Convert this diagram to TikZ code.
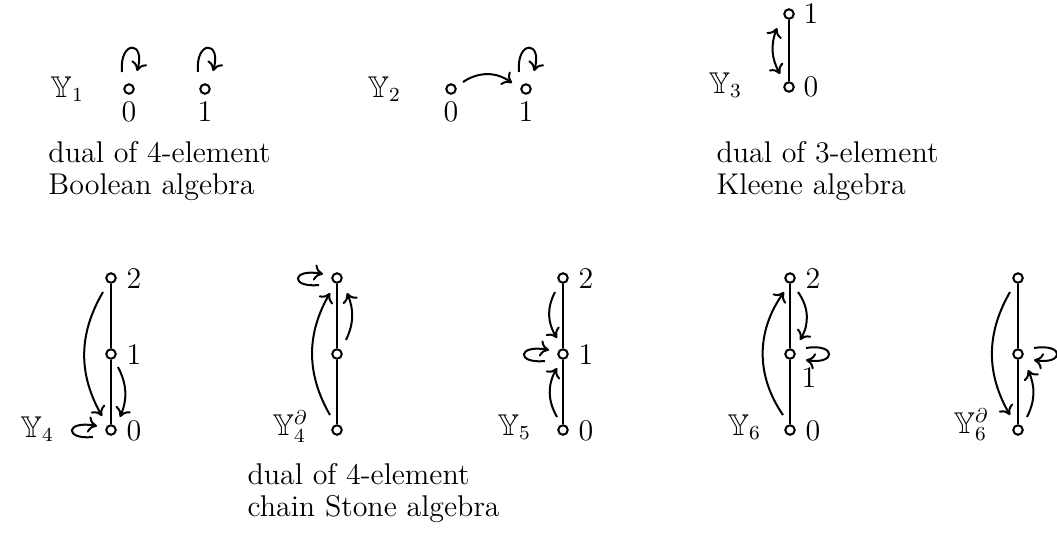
\documentclass[tikz,border=0pt]{standalone}
\usepackage{amssymb}
\usetikzlibrary{calc,arrows.meta}
\newcommand\lpTop[1]{\draw[arr] ($(#1)+(-7,-17)$) .. controls ($(#1)+(-10,-49)$) and ($(#1)+(17,-49)$) .. ($(#1)+(8,-18)$);}
\newcommand\lpLeft[1]{\draw[arr] ($(#1)+(-18,7)$) .. controls ($(#1)+(-47,10)$) and ($(#1)+(-46,-10)$) .. ($(#1)+(-14,-4)$);}
\newcommand\lpRight[1]{\draw[arr] ($(#1)+(16,-6)$) .. controls ($(#1)+(47,-11)$) and ($(#1)+(46,11)$) .. ($(#1)+(16,6)$);}
\begin{document}
\begin{tikzpicture}[x=0.4pt,y=-0.4pt,
  font=\fontsize{12}{12.8}\selectfont,
  vtx/.style={circle,draw,line width=0.8pt,inner sep=0pt,minimum size=3.8pt},
  chainline/.style={line width=0.8pt},
  arr/.style={line width=0.8pt,-{To[length=3.6pt,width=6.5pt]}},
  darr/.style={line width=0.8pt,{To[length=3.6pt,width=6.5pt]}-{To[length=3.6pt,width=6.5pt]}},
  numr/.style={anchor=base west,inner sep=0pt},
  numb/.style={anchor=base,inner sep=0pt},
  ylab/.style={anchor=base west,inner sep=0pt},
  capt/.style={anchor=base west,align=left,inner sep=0pt}]
\useasboundingbox (0,0) rectangle (1057,549);

% ---------- Y1 ----------
\node[ylab] (n1) at (50,97) {$\mathbb{Y}_1$};
\node[vtx] (a0) at (129,89) {};
\node[vtx] (a1) at (205,89) {};
\node[numb] (la0) at (129,121) {0};
\node[numb] (la1) at (205,121) {1};
\lpTop{a0}
\lpTop{a1}
\node[capt] (c1) at (48,194) {dual of 4-element\\Boolean algebra};

% ---------- Y2 ----------
\node[ylab] (n2) at (367,97) {$\mathbb{Y}_2$};
\node[vtx] (b0) at (451,89) {};
\node[vtx] (b1) at (526,89) {};
\node[numb] (lb0) at (451,121) {0};
\node[numb] (lb1) at (526,121) {1};
\draw[arr] ($(b0)+(12,-7)$) to[bend left=35] ($(b1)+(-14,-6)$);
\lpTop{b1}

% ---------- Y3 ----------
\node[ylab] (n3) at (708,93) {$\mathbb{Y}_3$};
\node[vtx] (c1v) at (789,14) {};
\node[vtx] (c0v) at (789,87) {};
\draw[chainline] (c1v) -- (c0v);
\node[numr] (lc1) at (803,23) {1};
\node[numr] (lc0) at (803,96) {0};
\draw[darr] ($(c1v)+(-12,14)$) to[bend right=25] ($(c0v)+(-9,-13)$);
\node[capt] (c3) at (716,194) {dual of 3-element\\Kleene algebra};

% ---------- Y4 ----------
\node[ylab] (n4) at (20,437) {$\mathbb{Y}_4$};
\node[vtx] (d2) at (111,278) {};
\node[vtx] (d1) at (111,354) {};
\node[vtx] (d0) at (111,430) {};
\draw[chainline] (d2) -- (d1) -- (d0);
\node[numr] (ld2) at (126,288) {2};
\node[numr] (ld1) at (126,364) {1};
\node[numr] (ld0) at (126,440) {0};
\draw[arr] ($(d2)+(-8,14)$) to[bend right=30] ($(d0)+(-9,-14)$);
\draw[arr] ($(d1)+(7,13)$) to[bend left=25] ($(d0)+(9,-13)$);
\lpLeft{d0}

% ---------- Y4 dual ----------
\node[ylab] (n4d) at (272,435) {$\mathbb{Y}_4^\partial$};
\node[vtx] (e2) at (337,278) {};
\node[vtx] (e1) at (337,354) {};
\node[vtx] (e0) at (337,430) {};
\draw[chainline] (e2) -- (e1) -- (e0);
\draw[arr] ($(e0)+(-7,-15)$) to[bend left=30] ($(e2)+(-7,15)$);
\draw[arr] ($(e1)+(9,-14)$) to[bend right=24] ($(e2)+(10,15)$);
\lpLeft{e2}
\node[capt] (c4) at (247,516) {dual of 4-element\\chain Stone algebra};

% ---------- Y5 ----------
\node[ylab] (n5) at (497,435) {$\mathbb{Y}_5$};
\node[vtx] (f2) at (563,278) {};
\node[vtx] (f1) at (563,354) {};
\node[vtx] (f0) at (563,430) {};
\draw[chainline] (f2) -- (f1) -- (f0);
\node[numr] (lf2) at (578,288) {2};
\node[numr] (lf1) at (578,364) {1};
\node[numr] (lf0) at (578,440) {0};
\draw[arr] ($(f2)+(-8,14)$) to[bend right=30] ($(f1)+(-6,-16)$);
\draw[arr] ($(f0)+(-6,-13)$) to[bend left=30] ($(f1)+(-6,14)$);
\lpLeft{f1}

% ---------- Y6 ----------
\node[ylab] (n6) at (727,435) {$\mathbb{Y}_6$};
\node[vtx] (g2) at (790,278) {};
\node[vtx] (g1) at (790,354) {};
\node[vtx] (g0) at (790,430) {};
\draw[chainline] (g2) -- (g1) -- (g0);
\node[numr] (lg2) at (805,288) {2};
\node[numr] (lg1) at (801,387) {1};
\node[numr] (lg0) at (805,440) {0};
\draw[arr] ($(g0)+(-7,-15)$) to[bend left=35] ($(g2)+(-6,14)$);
\draw[arr] ($(g2)+(8,14)$) to[bend left=33] ($(g1)+(10,-14)$);
\lpRight{g1}

% ---------- Y6 dual ----------
\node[ylab] (n6d) at (953,433) {$\mathbb{Y}_6^\partial$};
\node[vtx] (h2) at (1018,278) {};
\node[vtx] (h1) at (1018,354) {};
\node[vtx] (h0) at (1018,430) {};
\draw[chainline] (h2) -- (h1) -- (h0);
\draw[arr] ($(h2)+(-8,14)$) to[bend right=30] ($(h0)+(-8,-15)$);
\draw[arr] ($(h0)+(9,-13)$) to[bend right=25] ($(h1)+(10,16)$);
\lpRight{h1}
\end{tikzpicture}
\end{document}
